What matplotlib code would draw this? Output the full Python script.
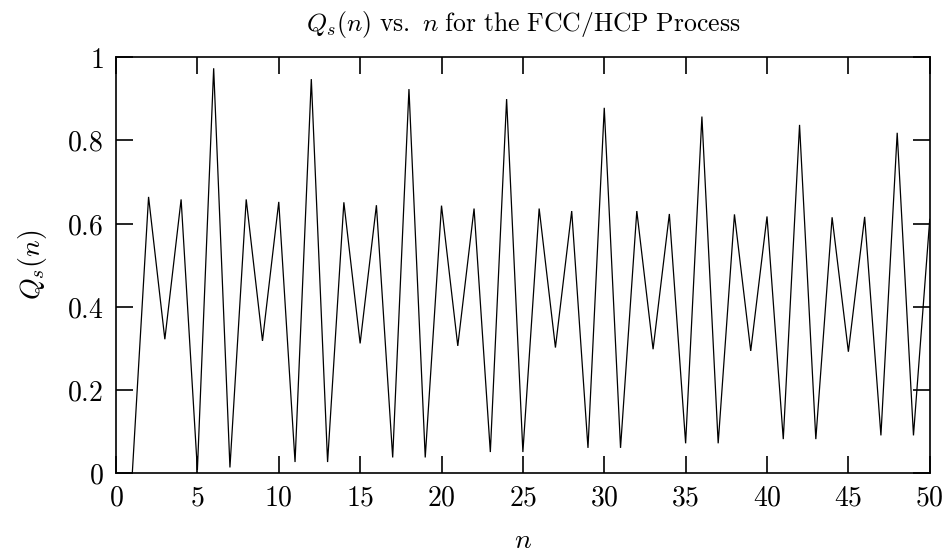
import numpy as np
import matplotlib
matplotlib.use("Agg")
import matplotlib.pyplot as plt
from matplotlib.ticker import FuncFormatter

# Q_s(n) values
n_vals = list(range(1, 51))
qs_vals = [
    0.000, 0.664, 0.322, 0.658, 0.008, 0.973,
    0.014, 0.658, 0.318, 0.652, 0.027, 0.947,
    0.027, 0.651, 0.312, 0.644, 0.038, 0.923,
    0.038, 0.643, 0.306, 0.636, 0.051, 0.899,
    0.051, 0.636, 0.302, 0.630, 0.061, 0.878,
    0.061, 0.630, 0.298, 0.623, 0.072, 0.857,
    0.072, 0.622, 0.294, 0.617, 0.082, 0.837,
    0.082, 0.615, 0.292, 0.616, 0.091, 0.818,
    0.091, 0.610,
]
x_ticks = [0, 5, 10, 15, 20, 25, 30, 35, 40, 45, 50]
y_ticks = [0, 0.2, 0.4, 0.6, 0.8, 1]

plt.rcParams['mathtext.fontset'] = 'cm'
plt.rcParams['font.family'] = 'serif'
plt.rcParams['font.serif'] = ['DejaVu Serif']

fig = plt.figure(figsize=(9.44, 5.52), dpi=100)
ax = fig.add_axes([0.1229, 0.1426, 0.862, 0.7541])

ax.plot(n_vals, qs_vals, color='black', lw=0.9, solid_joinstyle='miter')

ax.set_xlim(0, 50)
ax.set_ylim(0, 1)
ax.set_xticks(x_ticks)
ax.set_yticks(y_ticks)
fmt = FuncFormatter(lambda v, p: r"$%g$" % v)
ax.xaxis.set_major_formatter(fmt)
ax.yaxis.set_major_formatter(fmt)
ax.tick_params(direction='in', length=12, width=1.2, top=True, right=True,
               labelsize=20)
ax.tick_params(axis='x', pad=8)
ax.tick_params(axis='y', pad=9)
for s in ax.spines.values():
    s.set_linewidth(1.2)

ax.set_title(r"$Q_s(n)\ \mathrm{vs.}\ n\ \mathrm{for\ the\ FCC/HCP\ Process}$",
             fontsize=18.5, pad=19)
ax.set_xlabel(r"$n$", fontsize=20, labelpad=11)
ax.set_ylabel(r"$Q_s(n)$", fontsize=20, labelpad=13)

fig.savefig("out.png", dpi=100)
